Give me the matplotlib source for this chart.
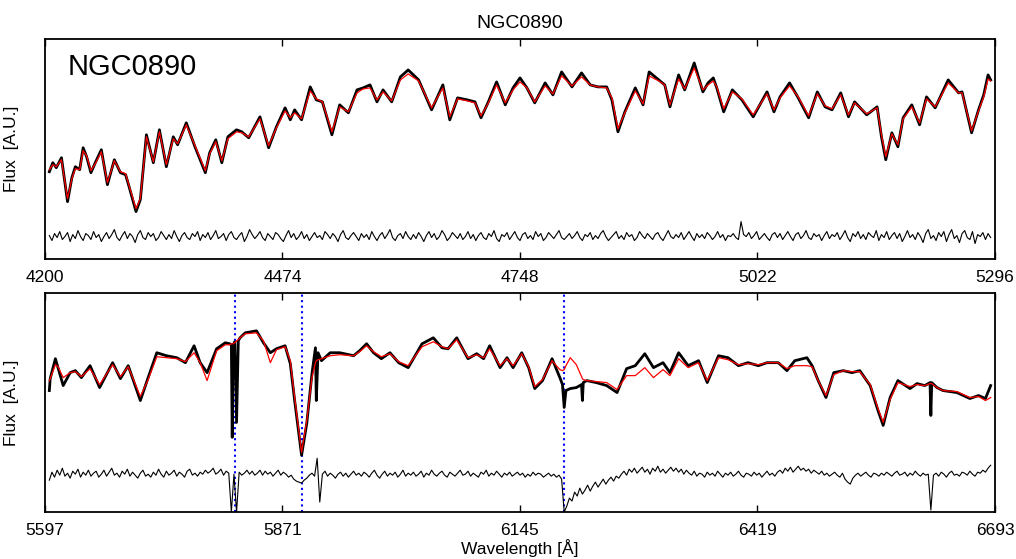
import matplotlib
matplotlib.use('Agg')
import matplotlib.pyplot as plt
import numpy as np

plt.rcParams['font.family'] = ['Liberation Sans', 'DejaVu Sans']

# ---------------- data ----------------
galaxy = 'NGC0890'
ticks_top = [4200, 4474, 4748, 5022, 5296]
ticks_bot = [5597, 5871, 6145, 6419, 6693]
sky_lines = [5816, 5893, 6196]

wave_top = [4205, 4209, 4213, 4219, 4226, 4231, 4235, 4240, 4244, 4248,
            4253, 4258, 4265, 4272, 4280, 4287, 4293, 4297, 4305, 4310,
            4317, 4325, 4332, 4340, 4348, 4353, 4363, 4373, 4385, 4390,
            4397, 4404, 4411, 4421, 4427, 4435, 4448, 4458, 4467, 4477,
            4483, 4488, 4496, 4506, 4513, 4520, 4531, 4540, 4550, 4560,
            4567, 4575, 4583, 4590, 4600, 4610, 4619, 4631, 4646, 4659,
            4667, 4676, 4687, 4696, 4703, 4711, 4721, 4731, 4740, 4748,
            4756, 4765, 4777, 4786, 4796, 4808, 4819, 4829, 4838, 4848,
            4854, 4861, 4869, 4881, 4890, 4897, 4908, 4915, 4921, 4931,
            4938, 4949, 4959, 4965, 4971, 4975, 4983, 4993, 5004, 5017,
            5033, 5041, 5048, 5059, 5069, 5081, 5091, 5100, 5108, 5118,
            5127, 5134, 5148, 5160, 5165, 5170, 5177, 5184, 5190, 5200,
            5209, 5217, 5227, 5242, 5254, 5258, 5269, 5277, 5283, 5288,
            5291]
obs_top = [87, 96, 91, 101, 57, 81, 92, 89, 111, 102,
           86, 96, 109, 74, 99, 86, 84, 72, 47, 59,
           124, 96, 129, 92, 122, 114, 136, 112, 86, 106,
           119, 96, 122, 129, 127, 121, 142, 111, 132, 151,
           139, 149, 139, 172, 159, 157, 124, 154, 146, 169,
           171, 174, 157, 169, 157, 182, 189, 179, 149, 174,
           139, 161, 159, 157, 141, 156, 177, 154, 171, 181,
           171, 156, 176, 164, 187, 172, 186, 174, 172, 172,
           159, 127, 147, 171, 154, 187, 179, 174, 152, 184,
           169, 196, 167, 176, 181, 171, 147, 169, 159, 142,
           167, 147, 162, 176, 161, 141, 167, 152, 149, 166,
           142, 157, 144, 152, 122, 99, 126, 112, 141, 154,
           134, 162, 151, 179, 166, 167, 126, 149, 164, 184,
           179]
fit_top = [89, 94, 92, 99, 60, 80, 90, 89, 108, 103,
           88, 95, 107, 76, 98, 87, 85, 73, 50, 60,
           122, 97, 127, 94, 120, 115, 134, 113, 88, 105,
           117, 98, 120, 127, 126, 122, 140, 113, 131, 148,
           141, 146, 140, 168, 160, 157, 127, 152, 147, 166,
           170, 171, 159, 167, 158, 179, 185, 178, 151, 171,
           142, 160, 158, 156, 143, 155, 174, 156, 169, 177,
           171, 157, 173, 165, 183, 173, 182, 174, 172, 171,
           161, 130, 146, 168, 155, 183, 178, 174, 154, 180,
           170, 191, 169, 174, 178, 172, 150, 167, 160, 144,
           165, 149, 161, 173, 162, 143, 165, 153, 150, 164,
           144, 156, 145, 151, 124, 102, 125, 114, 140, 152,
           136, 160, 152, 176, 166, 166, 128, 148, 162, 180,
           178]

res_top = [23, 18, 25, 21, 27, 19, 22, 26, 17, 24, 20, 28, 22, 18, 25, 23, 19, 27, 21, 24,
           17, 22, 26, 20, 24, 29, 21, 18, 23, 27, 20, 25, 22, 16, 24, 28, 21, 19, 26, 22,
           25, 18, 21, 27, 23, 19, 24, 20, 28, 22, 17, 23, 26, 21, 19, 25, 22, 27, 18, 24,
           21, 26, 19, 23, 28, 20, 22, 25, 18, 24, 27, 21, 19, 23, 26, 17, 22, 29, 24, 20,
           23, 27, 21, 18, 25, 22, 19, 26, 24, 20, 17, 23, 28, 21, 25, 19, 22, 27, 20, 24,
           18, 22, 26, 21, 23, 19, 27, 24, 20, 25, 22, 17, 24, 28, 21, 19, 23, 26, 22, 18,
           25, 21, 24, 19, 27, 22, 18, 23, 26, 20, 24, 29, 21, 18, 23, 25, 20, 27, 22, 19,
           24, 20, 26, 22, 17, 23, 27, 21, 25, 19, 22, 28, 24, 18, 21, 26, 23, 20, 25, 19,
           22, 27, 20, 24, 18, 23, 26, 21, 19, 25, 22, 28, 20, 17, 24, 22, 26, 19, 23, 27,
           21, 18, 24, 26, 20, 23, 19, 27, 22, 25, 18, 21, 26, 23, 20, 24, 28, 21, 19, 22,
           25, 20, 23, 27, 21, 18, 24, 22, 26, 19, 23, 20, 25, 28, 22, 18, 21, 24, 27, 20,
           23, 19, 26, 22, 24, 18, 21, 27, 23, 20, 25, 22, 19, 24, 26, 21, 18, 23, 28, 22,
           20, 24, 21, 26, 19, 23, 27, 22, 18, 25, 21, 24, 20, 26, 23, 19, 22, 27, 21, 24,
           18, 23, 22, 25, 21, 19, 37, 24, 22, 26, 20, 23, 27, 19, 22, 25, 21, 18, 24, 26,
           21, 25, 19, 23, 27, 22, 18, 24, 26, 20, 23, 28, 21, 19, 25, 22, 24, 18, 23, 27,
           20, 24, 22, 26, 19, 23, 28, 21, 17, 25, 22, 27, 20, 24, 19, 26, 23, 21, 28, 18,
           24, 21, 27, 19, 23, 26, 20, 25, 17, 22, 28, 21, 24, 19, 26, 22, 16, 25, 29, 20,
           23, 18, 26, 22, 27, 17, 24, 29, 20, 23, 16, 25, 28, 21, 19, 27, 15, 24, 22, 26,
           19, 25, 21]

wave_bot = [5602, 5603, 5609, 5612, 5618, 5626, 5632, 5639, 5649, 5660,
            5675, 5684, 5693, 5707, 5716, 5726, 5737, 5749, 5759, 5769,
            5776, 5784, 5795, 5805, 5810, 5812, 5813, 5814, 5816, 5818,
            5820, 5822, 5828, 5841, 5849, 5857, 5864, 5874, 5880, 5885,
            5893, 5899, 5905, 5909, 5910, 5912, 5916, 5926, 5937, 5953,
            5960, 5968, 5976, 5985, 5995, 6005, 6016, 6032, 6045, 6055,
            6062, 6072, 6085, 6095, 6103, 6110, 6122, 6130, 6137, 6147,
            6155, 6162, 6171, 6182, 6191, 6194, 6196, 6198, 6203, 6210,
            6216, 6217, 6218, 6222, 6233, 6245, 6257, 6268, 6278, 6289,
            6299, 6310, 6318, 6328, 6339, 6351, 6361, 6374, 6385, 6397,
            6408, 6420, 6430, 6443, 6453, 6462, 6476, 6482, 6489, 6498,
            6507, 6518, 6528, 6537, 6549, 6558, 6564, 6572, 6581, 6595,
            6603, 6612, 6618, 6619, 6620, 6626, 6633, 6649, 6664, 6674,
            6682, 6688]
obs_bot = [122, 134, 154, 145, 127, 140, 142, 135, 147, 125,
           150, 134, 147, 112, 135, 160, 157, 155, 150, 167,
           150, 140, 164, 170, 169, 168, 75, 168, 171, 90,
           172, 175, 180, 182, 170, 160, 164, 167, 149, 112,
           57, 89, 139, 165, 112, 160, 152, 160, 160, 157,
           162, 169, 160, 154, 160, 150, 145, 169, 175, 165,
           164, 175, 154, 159, 154, 167, 145, 155, 145, 160,
           145, 124, 132, 154, 135, 128, 105, 122, 124, 125,
           128, 112, 130, 132, 130, 127, 120, 144, 147, 159,
           145, 150, 140, 160, 147, 152, 130, 157, 155, 147,
           150, 147, 150, 150, 142, 152, 155, 147, 132, 115,
           140, 142, 140, 142, 127, 102, 87, 115, 132, 124,
           129, 127, 130, 97, 130, 125, 122, 120, 114, 117,
           114, 127]
fit_bot = [132, 134, 148, 146, 135, 140, 141, 136, 144, 128,
           148, 136, 146, 116, 133, 156, 155, 154, 151, 160,
           150, 132, 162, 168, 168, 169, 169, 169, 170, 172,
           173, 175, 179, 180, 172, 150, 163, 166, 152, 115,
           60, 92, 135, 150, 152, 153, 154, 157, 158, 157,
           161, 167, 161, 156, 159, 151, 147, 166, 171, 166,
           164, 173, 155, 158, 155, 164, 147, 154, 147, 159,
           146, 126, 133, 152, 143, 142, 143, 147, 155, 148,
           136, 134, 133, 132, 131, 130, 123, 137, 137, 145,
           135, 143, 137, 154, 145, 150, 132, 155, 153, 148,
           149, 148, 150, 150, 144, 147, 147, 146, 132, 117,
           138, 142, 141, 141, 128, 104, 90, 113, 130, 126,
           128, 127, 129, 129, 129, 125, 122, 121, 115, 116,
           112, 115]

res_bot = [32, 40, 35, 42, 37, 44, 36, 39, 34, 41, 38, 43, 35, 40, 37, 42, 36, 39, 41, 35,
           38, 42, 36, 40, 44, 37, 39, 35, 41, 38, 43, 36, 40, 37, 34, 39, 42, 36, 38, 35,
           40, 37, 43, 38, 35, 41, 37, 39, 42, 36, 40, 38, 35, 41, 43, 37, 39, 36, 40, 38,
           42, 39, 41, 44, 38, 40, 43, 37, 41, 39, 0, 38, 0, 40, 37, 39, 42, 38, 41, 37,
           39, 42, 37, 41, 38, 40, 36, 39, 42, 37, 40, 38, 35, 37, 33, 31, 30, 29, 32, 34,
           37, 39, 36, 54, 10, 38, 41, 36, 39, 37, 34, 38, 40, 36, 39, 35, 38, 41, 37, 39,
           36, 40, 38, 35, 39, 42, 37, 34, 38, 41, 36, 39, 37, 40, 35, 38, 42, 36, 39, 37,
           40, 36, 38, 41, 35, 39, 37, 42, 38, 36, 39, 41, 37, 35, 40, 38, 36, 39, 42, 37,
           38, 41, 36, 39, 37, 35, 40, 38, 42, 36, 39, 37, 41, 38, 35, 39, 37, 40, 36, 38,
           40, 37, 39, 35, 38, 36, 40, 37, 39, 38, 35, 37, 39, 36, 38, 35, 37, 33, 0, 6,
           14, 11, 20, 16, 24, 18, 22, 27, 21, 26, 30, 25, 29, 33, 28, 32, 35, 31, 36, 34,
           38, 41, 37, 43, 40, 44, 39, 42, 45, 40, 43, 38, 44, 41, 46, 40, 43, 39, 42, 45,
           41, 44, 40, 43, 38, 42, 39, 37, 41, 36, 39, 38, 35, 40, 37, 39, 36, 41, 38, 35,
           39, 37, 40, 36, 38, 41, 37, 35, 39, 38, 36, 40, 37, 39, 35, 38, 41, 37, 39, 36,
           40, 42, 39, 44, 41, 45, 40, 43, 46, 42, 44, 41, 43, 39, 42, 40, 38, 41, 37, 39,
           36, 38, 40, 37, 35, 39, 33, 30, 28, 34, 37, 39, 36, 38, 40, 37, 35, 39, 38, 36,
           39, 37, 40, 38, 36, 39, 41, 37, 38, 40, 36, 39, 37, 41, 38, 36, 39, 37, 38, 2,
           37, 39, 36, 40, 38, 35, 39, 41, 37, 38, 36, 40, 39, 37, 41, 38, 36, 40, 39, 42,
           40, 44, 47]

res_wave_top = np.arange(4205, 4205 + 3 * len(res_top), 3)
res_wave_bot = np.arange(5602, 5602 + 3 * len(res_bot), 3)

# ---------------- figure ----------------
W, H = 1016, 559
fig = plt.figure(figsize=(W / 100, H / 100), dpi=100)
ax1 = fig.add_axes([45 / W, 1 - 258.5 / H, 950 / W, 219.5 / H])
ax2 = fig.add_axes([45 / W, 1 - 512 / H, 950 / W, 219 / H])

panels = [
    (ax1, wave_top, obs_top, fit_top, res_wave_top, res_top, ticks_top),
    (ax2, wave_bot, obs_bot, fit_bot, res_wave_bot, res_bot, ticks_bot),
]
for ax, wave, obs, fit, rw, res, ticks in panels:
    ax.plot(wave, obs, color='black', lw=2.0, zorder=3,
            solid_joinstyle='round')
    ax.plot(wave, fit, color='red', lw=0.9, zorder=4,
            solid_joinstyle='round')
    ax.plot(rw, res, color='black', lw=0.8, zorder=3)
    ax.set_xlim(ticks[0], ticks[-1])
    ax.set_ylim(0, 220)
    ax.set_xticks(ticks)
    ax.set_xticklabels([str(t) for t in ticks])
    ax.set_yticks([])
    ax.tick_params(axis='x', direction='in', top=True, bottom=True,
                   length=5, width=1, labelsize=12.5, pad=8)
    for s in ax.spines.values():
        s.set_linewidth(1.3)
    ax.set_ylabel('Flux  [A.U.]', fontsize=12.5)
    ax.yaxis.set_label_coords(-0.027, 0.5)

for l in sky_lines:
    ax2.axvline(l, color='blue', ls=':', lw=1.5, zorder=2)

ax1.set_title(galaxy, fontsize=14, pad=8)
ax1.text(0.0235, 0.836, galaxy, transform=ax1.transAxes, fontsize=21,
         va='baseline', ha='left')
ax2.set_xlabel('Wavelength [Å]', fontsize=12.5, labelpad=1)

fig.savefig('out.png', dpi=100)
